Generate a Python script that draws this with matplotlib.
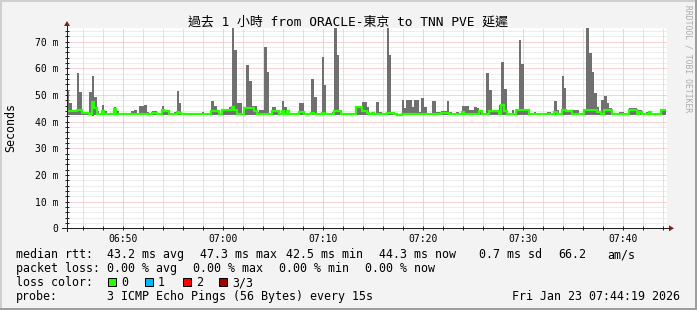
import numpy as np
import matplotlib
matplotlib.use('Agg')
import matplotlib.pyplot as plt
import matplotlib.dates as mdates
from matplotlib.ticker import MultipleLocator, FuncFormatter
from matplotlib.patches import Rectangle, Polygon
from matplotlib.lines import Line2D
from datetime import datetime, timedelta

plt.rcParams['font.family'] = ['DejaVu Sans Mono', 'Noto Sans CJK TC']
plt.rcParams['lines.scale_dashes'] = False

title = '過去 1 小時 from ORACLE-東京 to TNN PVE 延遲'
start = datetime(2026, 1, 23, 6, 44, 19)
step_s = 15

# top of the smoke (max of the 3 pings), ms, one value every 15 s
max_rtt = [
    51.7, 46.8, 44.4, 44.2, 58.4, 51.0, 43.4, 43.2, 43.4, 51.0, 57.2, 49.3, 44.0, 43.2, 46.4, 44.0, 43.2, 43.0, 43.1, 45.6,
    43.8, 43.2, 43.0, 43.1, 43.0, 43.2, 44.0, 44.2, 43.3, 46.0, 45.8, 46.2, 43.6, 43.2, 43.8, 43.9, 43.2, 43.0, 46.0, 44.0,
    44.0, 43.0, 43.2, 43.6, 51.3, 47.1, 43.2, 43.0, 43.1, 43.0, 43.2, 43.0, 43.1, 43.0, 43.6, 43.2, 43.0, 43.2, 47.6, 46.0,
    44.5, 43.2, 44.6, 44.8, 44.6, 45.5, 76.0, 67.0, 47.1, 47.0, 43.4, 45.4, 61.3, 55.3, 46.0, 46.0, 43.6, 44.5, 44.5, 68.0,
    58.7, 43.4, 45.5, 45.5, 44.4, 43.2, 47.6, 45.6, 44.2, 43.2, 43.0, 43.2, 43.0, 46.8, 46.8, 43.4, 43.0, 43.2, 56.0, 49.3,
    43.4, 43.2, 64.3, 53.8, 43.2, 43.0, 43.6, 76.0, 65.0, 44.4, 43.2, 43.0, 43.1, 43.0, 43.2, 43.0, 46.0, 45.8, 47.5, 47.5,
    45.6, 43.2, 43.6, 43.0, 47.5, 43.6, 43.1, 43.0, 76.0, 65.0, 43.6, 43.0, 42.9, 42.9, 48.2, 45.0, 48.2, 48.2, 45.5, 48.0,
    48.0, 43.6, 49.0, 45.5, 43.2, 43.0, 47.9, 47.9, 43.6, 43.6, 43.8, 43.8, 47.6, 43.6, 43.0, 43.2, 43.6, 43.0, 46.0, 46.0,
    46.0, 44.5, 44.5, 45.5, 45.0, 44.5, 43.2, 43.0, 58.3, 52.0, 44.4, 44.5, 44.4, 46.4, 62.4, 52.3, 43.4, 43.0, 44.5, 43.2,
    44.8, 70.6, 61.7, 44.5, 44.7, 43.2, 43.0, 43.6, 43.0, 43.2, 43.0, 43.4, 43.6, 43.6, 43.2, 47.9, 44.5, 43.2, 57.2, 52.7,
    44.5, 44.2, 44.5, 44.5, 44.2, 43.2, 43.0, 44.7, 76.0, 65.8, 58.7, 50.8, 45.6, 44.0, 48.2, 49.7, 46.8, 45.0, 43.2, 43.0,
    43.2, 43.6, 43.6, 43.2, 43.0, 45.0, 45.0, 45.0, 44.5, 44.5, 43.2, 43.0, 43.6, 43.8, 43.2, 43.0, 43.2, 43.0, 44.4, 44.8,
]

median_rtt = [
    43.9, 43.9, 43.9, 43.9, 44.2, 44.2, 43.1, 43.1, 43.1, 42.8, 47.4, 45.2, 42.9, 42.8, 44.0, 42.9, 42.7, 42.8, 42.8, 44.8,
    43.0, 42.8, 42.8, 42.7, 42.8, 42.8, 43.0, 43.0, 42.8, 42.7, 42.7, 42.8, 42.9, 42.8, 43.3, 43.3, 42.8, 42.8, 44.3, 43.8,
    43.8, 42.9, 42.8, 42.8, 43.6, 43.2, 42.8, 42.7, 42.8, 42.8, 42.7, 42.8, 42.8, 42.9, 42.8, 42.7, 42.8, 42.8, 43.8, 43.8,
    43.8, 42.9, 44.2, 44.2, 44.2, 44.2, 45.6, 44.2, 43.0, 42.8, 42.8, 45.0, 45.0, 45.0, 45.0, 44.0, 42.9, 42.8, 42.8, 42.8,
    42.9, 42.8, 44.0, 44.0, 44.0, 42.9, 44.0, 43.0, 44.0, 42.9, 42.8, 42.7, 42.8, 43.6, 43.6, 42.9, 42.8, 42.8, 43.3, 43.0,
    42.8, 42.8, 43.3, 43.0, 42.8, 42.7, 42.8, 44.0, 44.0, 44.0, 42.9, 42.8, 42.8, 42.7, 42.8, 42.8, 45.4, 45.4, 44.0, 44.0,
    43.2, 42.8, 43.4, 42.8, 43.0, 42.9, 42.8, 42.7, 43.4, 43.4, 43.4, 42.8, 42.6, 42.6, 42.8, 42.8, 42.9, 42.8, 42.8, 42.9,
    42.8, 42.8, 42.9, 42.8, 42.8, 42.7, 42.8, 42.8, 42.8, 42.9, 43.4, 43.4, 43.4, 42.8, 42.7, 42.8, 42.9, 42.8, 43.6, 43.0,
    42.9, 42.8, 42.8, 42.9, 43.0, 43.8, 42.8, 42.7, 42.8, 44.0, 44.0, 44.0, 44.0, 43.0, 46.1, 44.0, 42.9, 42.7, 42.8, 42.8,
    44.3, 44.3, 44.3, 44.3, 44.3, 42.9, 42.8, 42.8, 42.7, 42.8, 42.8, 42.9, 42.8, 42.8, 42.7, 43.6, 42.9, 42.8, 44.5, 44.5,
    43.8, 43.8, 42.9, 42.8, 42.8, 42.7, 42.8, 44.3, 44.3, 44.3, 44.3, 44.3, 43.6, 43.6, 42.9, 44.5, 44.5, 44.5, 42.9, 42.8,
    42.8, 42.7, 42.8, 42.8, 42.7, 44.5, 44.5, 44.5, 42.9, 43.5, 42.8, 42.7, 42.8, 43.6, 42.8, 42.8, 42.7, 42.8, 44.4, 44.4,
]

min_rtt = [
    42.4, 42.3, 42.5, 42.4, 42.3, 42.4, 42.5, 42.4, 42.3, 42.4, 42.2, 42.4, 42.5, 42.4, 42.3, 42.4, 42.5, 42.4, 42.4, 42.3,
    42.5, 42.4, 42.3, 42.4, 42.5, 42.4, 42.3, 42.4, 42.4, 42.3, 42.4, 42.5, 42.4, 42.3, 42.4, 42.5, 42.4, 42.4, 42.3, 42.4,
    42.4, 42.5, 42.4, 42.3, 42.4, 42.4, 42.5, 42.4, 42.3, 42.4, 42.4, 42.3, 42.5, 42.4, 42.4, 42.3, 42.4, 42.5, 42.4, 42.3,
    42.4, 42.4, 42.3, 42.4, 42.5, 42.4, 42.3, 42.4, 42.4, 42.5, 42.4, 42.3, 42.4, 42.4, 42.3, 42.5, 42.4, 42.4, 42.3, 42.4,
    42.4, 42.5, 42.4, 42.3, 42.4, 42.4, 42.3, 42.4, 42.5, 42.4, 42.3, 42.4, 42.4, 42.5, 42.4, 42.3, 42.4, 42.4, 42.3, 42.4,
    42.5, 42.4, 42.3, 42.4, 42.4, 42.5, 42.4, 42.3, 42.4, 42.4, 42.5, 42.4, 42.3, 42.4, 42.4, 42.5, 42.3, 42.4, 42.4, 42.3,
    42.4, 42.5, 42.4, 42.3, 42.4, 42.4, 42.5, 42.4, 42.3, 42.4, 42.4, 42.3, 42.2, 42.3, 42.4, 42.5, 42.4, 42.4, 42.3, 42.4,
    42.4, 42.5, 42.4, 42.3, 42.4, 42.4, 42.5, 42.4, 42.3, 42.4, 42.4, 42.5, 42.4, 42.3, 42.4, 42.4, 42.5, 42.4, 42.3, 42.4,
    42.4, 42.5, 42.4, 42.3, 42.4, 42.4, 42.5, 42.4, 42.3, 42.4, 42.4, 42.5, 42.4, 42.3, 42.4, 42.4, 42.5, 42.4, 42.3, 42.4,
    42.4, 42.5, 42.4, 42.3, 42.4, 42.4, 42.5, 42.4, 42.3, 42.4, 42.4, 42.5, 42.4, 42.3, 42.4, 42.4, 42.5, 42.4, 42.3, 42.4,
    42.4, 42.5, 42.4, 42.3, 42.4, 42.4, 42.5, 42.4, 42.3, 42.4, 42.4, 42.5, 42.4, 42.3, 42.4, 42.4, 42.5, 42.4, 42.3, 42.4,
    42.4, 42.5, 42.4, 42.3, 42.4, 42.4, 42.5, 42.4, 42.3, 42.4, 42.4, 42.5, 42.4, 42.3, 42.4, 42.4, 42.5, 42.4, 42.3, 42.4,
]

rtt_stats = ['43.2 ms avg', '47.3 ms max', '42.5 ms min', '44.3 ms now', '0.7 ms sd', '66.2', 'am/s']
rtt_x = [107, 200, 286, 379, 479, 558, 607]
loss_stats = ['0.00 % avg', '0.00 % max', '0.00 % min', '0.00 % now']
loss_x = [107, 193, 279, 365]
loss_labels = ['0', '1', '2', '3/3']
loss_colors = ['#26ff00', '#00b8ff', '#ff0000', '#a00000']
loss_box_x = [108, 145, 183, 219]
probe_text = '3 ICMP Echo Pings (56 Bytes) every 15s'
stamp = 'Fri Jan 23 07:44:19 2026'

W, H = 697, 310


def fx(x):
    return x / W


def fy(y):
    return 1 - y / H


fig = plt.figure(figsize=(W / 100, H / 100), dpi=100, facecolor='#f3f3f3')

# shaded frame
fig.add_artist(Rectangle((0, fy(2)), 1, 2 / H, transform=fig.transFigure, color='#cfcfcf', lw=0))
fig.add_artist(Rectangle((0, 0), 2 / W, 1, transform=fig.transFigure, color='#cfcfcf', lw=0))
fig.add_artist(Rectangle((0, 0), 1, 2 / H, transform=fig.transFigure, color='#9e9e9e', lw=0))
fig.add_artist(Rectangle((fx(695), 0), 2 / W, 1, transform=fig.transFigure, color='#9e9e9e', lw=0))

ax = fig.add_axes([fx(66.5), fy(228.3), 600 / W, 200.3 / H])
ax.set_facecolor('white')

edges = mdates.date2num([start + timedelta(seconds=step_s * k) for k in range(len(max_rtt) + 1)])
lo = np.append(min_rtt, min_rtt[-1])
hi = np.append(max_rtt, max_rtt[-1])
# smoke: continuous step band from min to max
ax.fill_between(edges, lo, hi, step='post', color='#707070', linewidth=0, zorder=2)
ax.stairs(median_rtt, edges, baseline=None, color=loss_colors[0], linewidth=1.6, zorder=3)

ax.set_xlim(edges[0], edges[-1])
ax.set_ylim(0, 75.1)

ax.xaxis.set_major_locator(mdates.MinuteLocator(byminute=range(0, 60, 10)))
ax.xaxis.set_minor_locator(mdates.MinuteLocator(byminute=range(0, 60, 2)))
ax.xaxis.set_major_formatter(mdates.DateFormatter('%H:%M'))
ax.yaxis.set_major_locator(MultipleLocator(10))
ax.yaxis.set_minor_locator(MultipleLocator(2))
ax.yaxis.set_major_formatter(FuncFormatter(lambda v, p: '0' if v == 0 else '%d m' % v))

ax.set_axisbelow(True)
dots = (0, (0.72, 0.72))
ax.xaxis.grid(True, which='minor', color='#c4c4c4', linewidth=0.72, linestyle=dots)
ax.yaxis.grid(True, which='minor', color='#dcdcdc', linewidth=0.72, linestyle=dots)
ax.xaxis.grid(True, which='major', color='#f2a0a0', linewidth=0.72, linestyle=dots)
ax.yaxis.grid(True, which='major', color='#f2a8a8', linewidth=0.72, linestyle=dots)

for s in ax.spines.values():
    s.set_visible(False)
ax.tick_params(which='both', direction='inout', length=2.5, width=0.72, color='#1f1f1f',
               labelsize=7)
ax.tick_params(axis='x', pad=3)
ax.tick_params(axis='y', pad=4.5)

# axis lines and arrows
fig.add_artist(Line2D([fx(62), fx(669)], [fy(228.3), fy(228.3)], transform=fig.transFigure,
                      color='#1f1f1f', lw=0.72))
fig.add_artist(Line2D([fx(67), fx(67)], [fy(231), fy(26)], transform=fig.transFigure,
                      color='#1f1f1f', lw=0.72))
fig.add_artist(Polygon([(fx(669), fy(225.3)), (fx(674), fy(228.3)), (fx(669), fy(231.3))],
                       closed=True, transform=fig.transFigure, color='#801f1f', lw=0))
fig.add_artist(Polygon([(fx(64), fy(26)), (fx(67), fy(21)), (fx(70), fy(26))],
                       closed=True, transform=fig.transFigure, color='#801f1f', lw=0))

fig.text(0.5, fy(26), title, ha='center', va='baseline', fontsize=9.3)
fig.text(fx(11), fy(127), 'Seconds', rotation=90, ha='center', va='center', fontsize=8.4)
fig.text(fx(688), fy(5), 'RRDTOOL / TOBI OETIKER', rotation=270, ha='center', va='top',
         fontsize=5.8, color='#aaaaaa')

fs = 8.4
fig.text(fx(16), fy(258.3), 'median rtt:', fontsize=fs, va='baseline')
for t, x in zip(rtt_stats, rtt_x):
    fig.text(fx(x), fy(258.3), t, fontsize=fs, va='baseline')
fig.text(fx(16), fy(272.3), 'packet loss:', fontsize=fs, va='baseline')
for t, x in zip(loss_stats, loss_x):
    fig.text(fx(x), fy(272.3), t, fontsize=fs, va='baseline')
fig.text(fx(16), fy(286.3), 'loss color:', fontsize=fs, va='baseline')
for lab, col, x in zip(loss_labels, loss_colors, loss_box_x):
    fig.add_artist(Rectangle((fx(x), fy(285.8)), 8 / W, 8 / H, transform=fig.transFigure,
                             facecolor=col, edgecolor='black', lw=0.72))
    fig.text(fx(x + 13), fy(286.3), lab, fontsize=fs, va='baseline')
fig.text(fx(16), fy(300.3), 'probe:', fontsize=fs, va='baseline')
fig.text(fx(107), fy(300.3), probe_text, fontsize=fs, va='baseline')
fig.text(fx(680), fy(300.3), stamp, fontsize=fs, va='baseline', ha='right')

fig.savefig('out.png', dpi=100, facecolor=fig.get_facecolor())
